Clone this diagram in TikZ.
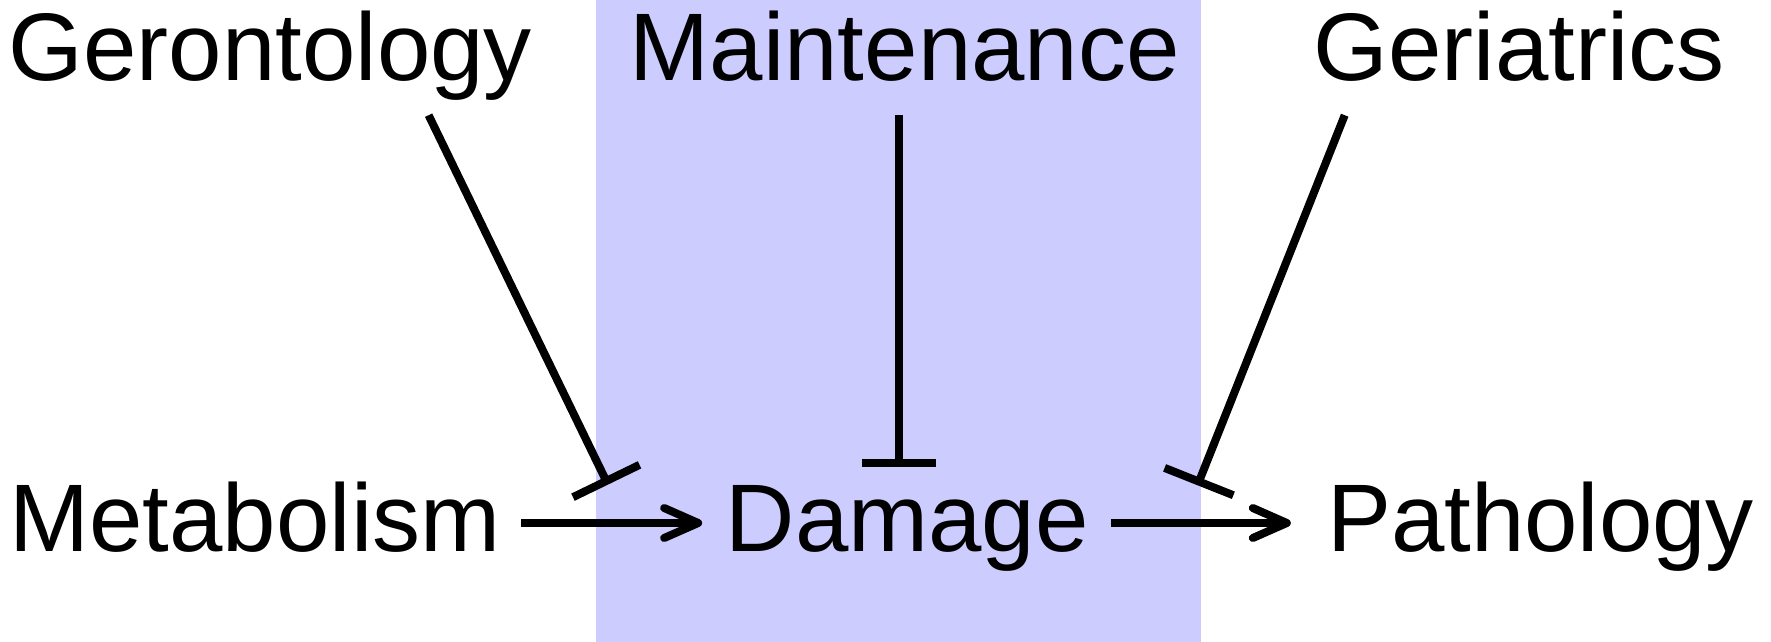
\documentclass[tikz,border=0pt]{standalone}
\usepackage{fontspec}
\setmainfont{Liberation Sans}
\usetikzlibrary{arrows.meta}
\definecolor{bandblue}{RGB}{204,204,255}
\begin{document}
\begin{tikzpicture}[x=1pt,y=-1pt,
  lbl/.style={font=\fontsize{96pt}{110pt}\selectfont, inner sep=0pt, text height=76pt, text depth=20pt, anchor=base},
  conn/.style={line width=8pt},
  act/.style={conn, -{Straight Barb[length=34pt,width=30pt,round]}},
  inh/.style={conn, -{Bar[width=74pt]}}]
\useasboundingbox (0,0) rectangle (1771,642);
\fill[bandblue] (596,0) rectangle (1201,642);
\node[lbl] (ger) at (270.4,81) {Gerontology};
\node[lbl] (mai) at (904.8,81) {Maintenance};
\node[lbl] (geri) at (1519,81) {Geriatrics};
\node[lbl] (met) at (255,551) {Metabolism};
\node[lbl] (dam) at (907.2,551) {Damage};
\node[lbl] (pat) at (1540.5,551) {Pathology};
\coordinate (t1) at (608,484.6);
\coordinate (t3) at (1197.5,485.3);
\draw[act] ([xshift=20.6pt]met.east) -- ([xshift=-23.4pt]dam.west);
\draw[act] ([xshift=22pt]dam.east) -- ([xshift=-36pt]pat.west);
\draw[inh] ([shift={(158.2,14)}]ger.south) -- (t1);
\draw[inh] ([shift={(-6.3,14)}]mai.south) -- ([shift={(-6.3,-8)}]dam.north -| mai.south);
\draw[inh] ([shift={(-174.3,14)}]geri.south) -- (t3);
\end{tikzpicture}
\end{document}
